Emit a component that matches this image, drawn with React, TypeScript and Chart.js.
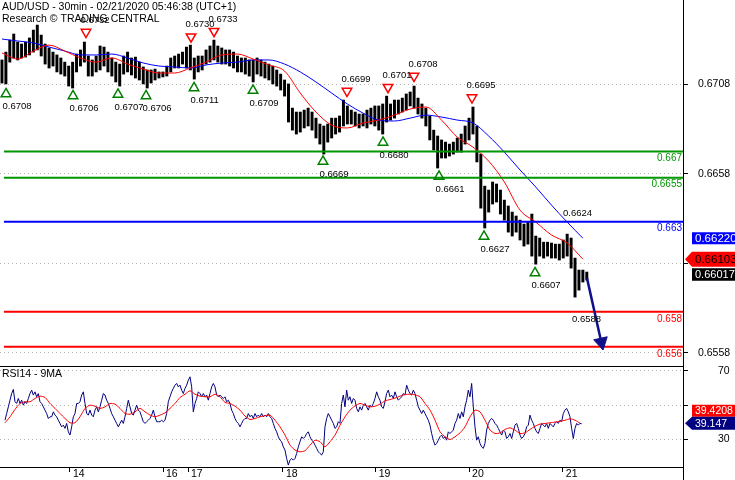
import React, { useEffect, useRef } from 'react';
import { Chart, registerables } from 'chart.js';

Chart.register(...registerables);

const FONT = "'Liberation Sans', Arial, Helvetica, sans-serif";
Chart.defaults.font.family = FONT;
Chart.defaults.color = '#000';

// ---------- text ----------
const titleLines = ['AUD/USD - 30min - 02/21/2020 05:46:38 (UTC+1)', 'Research \u00A9 TRADING CENTRAL'];
const rsiTitle = 'RSI14 - 9MA';

// ---------- axes ----------
const X_MAX = 174.01; // hourly slots across the plot
const MAIN_Y_MIN = 0.65506;
const MAIN_Y_MAX = 0.67551;
const mainTickValues = [0.6558, 0.6608, 0.6658, 0.6708];
const mainTickLabels = ['0.6558', '', '0.6658', '0.6708'];
const RSI_Y_MIN = 13.8;
const RSI_Y_MAX = 72.92;
const rsiTickValues = [30, 50, 70];
const rsiTickLabels = ['30', '', '70'];
const dayTickPos = [17.83, 41.53, 47.9, 72.1, 95.7, 119.5, 143.4];
const dayTickLabels = ['14', '16', '17', '18', '19', '20', '21'];

// ---------- price (hourly high / low) ----------
const priceHigh = [
  0.67216, 0.67260, 0.67327, 0.67361, 0.67316, 0.67305, 0.67316, 0.67339, 0.67383, 0.67411,
  0.67355, 0.67305, 0.67283, 0.67260, 0.67244, 0.67227, 0.67204, 0.67182, 0.67204, 0.67249,
  0.67272, 0.67316, 0.67238, 0.67216, 0.67238, 0.67294, 0.67288, 0.67260, 0.67227, 0.67204,
  0.67193, 0.67238, 0.67260, 0.67227, 0.67232, 0.67204, 0.67177, 0.67160, 0.67160, 0.67165,
  0.67149, 0.67149, 0.67182, 0.67227, 0.67238, 0.67249, 0.67260, 0.67288, 0.67299, 0.67227,
  0.67238, 0.67238, 0.67272, 0.67294, 0.67327, 0.67294, 0.67283, 0.67272, 0.67272, 0.67260,
  0.67238, 0.67227, 0.67227, 0.67216, 0.67216, 0.67227, 0.67216, 0.67204, 0.67193, 0.67182,
  0.67160, 0.67137, 0.67104, 0.67082, 0.66947, 0.66925, 0.66925, 0.66936, 0.66947, 0.66925,
  0.66891, 0.66858, 0.66847, 0.66858, 0.66891, 0.66891, 0.66903, 0.66992, 0.66959, 0.66936,
  0.66925, 0.66914, 0.66914, 0.66936, 0.66947, 0.66959, 0.66959, 0.66970, 0.67014, 0.66970,
  0.66992, 0.66992, 0.67003, 0.67026, 0.67037, 0.67070, 0.67003, 0.66970, 0.66947, 0.66903,
  0.66824, 0.66791, 0.66769, 0.66757, 0.66746, 0.66757, 0.66780, 0.66802, 0.66847, 0.66891,
  0.66953, 0.66847, 0.66690, 0.66511, 0.66489, 0.66534, 0.66523, 0.66489, 0.66433, 0.66400,
  0.66366, 0.66344, 0.66321, 0.66299, 0.66310, 0.66355, 0.66232, 0.66221, 0.66198, 0.66198,
  0.66193, 0.66187, 0.66187, 0.66210, 0.66243, 0.66221, 0.66109, 0.66042, 0.66042, 0.66031,
];
const priceLow = [
  0.67087, 0.67082, 0.67204, 0.67227, 0.67216, 0.67227, 0.67232, 0.67244, 0.67260, 0.67272,
  0.67238, 0.67193, 0.67171, 0.67182, 0.67149, 0.67137, 0.67126, 0.67070, 0.67059, 0.67149,
  0.67182, 0.67204, 0.67126, 0.67126, 0.67149, 0.67160, 0.67182, 0.67149, 0.67126, 0.67093,
  0.67070, 0.67137, 0.67149, 0.67132, 0.67115, 0.67104, 0.67082, 0.67059, 0.67087, 0.67104,
  0.67115, 0.67121, 0.67126, 0.67149, 0.67171, 0.67171, 0.67193, 0.67171, 0.67160, 0.67109,
  0.67149, 0.67160, 0.67193, 0.67204, 0.67216, 0.67204, 0.67193, 0.67193, 0.67182, 0.67171,
  0.67149, 0.67149, 0.67137, 0.67126, 0.67093, 0.67137, 0.67126, 0.67115, 0.67104, 0.67082,
  0.67070, 0.67048, 0.67014, 0.66869, 0.66824, 0.66802, 0.66813, 0.66836, 0.66847, 0.66824,
  0.66780, 0.66746, 0.66690, 0.66757, 0.66780, 0.66802, 0.66813, 0.66847, 0.66858, 0.66858,
  0.66847, 0.66836, 0.66847, 0.66836, 0.66858, 0.66847, 0.66824, 0.66802, 0.66869, 0.66880,
  0.66891, 0.66914, 0.66925, 0.66936, 0.66959, 0.66947, 0.66914, 0.66891, 0.66847, 0.66769,
  0.66713, 0.66612, 0.66668, 0.66668, 0.66679, 0.66690, 0.66701, 0.66701, 0.66746, 0.66769,
  0.66802, 0.66646, 0.66388, 0.66277, 0.66366, 0.66411, 0.66422, 0.66355, 0.66321, 0.66254,
  0.66232, 0.66254, 0.66210, 0.66176, 0.66187, 0.66120, 0.66075, 0.66120, 0.66109, 0.66120,
  0.66109, 0.66109, 0.66098, 0.66109, 0.66120, 0.66053, 0.65891, 0.65930, 0.65975, 0.65986,
];

// ---------- moving averages (every 4th hour) ----------
const MA_STEP = 4;
const redMA = [
  0.67255, 0.67221, 0.67266, 0.67299, 0.67266, 0.67227, 0.67204, 0.67227, 0.67193, 0.67165,
  0.67143, 0.67143, 0.67171, 0.67204, 0.67244, 0.67249, 0.67221, 0.67188, 0.67154, 0.67031,
  0.66925, 0.66852, 0.66836, 0.66864, 0.66880, 0.66908, 0.66942, 0.66953, 0.66880, 0.66785,
  0.66729, 0.66651, 0.66534, 0.66377, 0.66310, 0.66238, 0.66193, 0.66103,
];
const blueMA = [
  0.67333, 0.67322, 0.67311, 0.67288, 0.67266, 0.67244, 0.67244, 0.67249, 0.67227, 0.67199,
  0.67182, 0.67177, 0.67171, 0.67188, 0.67199, 0.67204, 0.67216, 0.67216, 0.67193, 0.67149,
  0.67093, 0.67031, 0.66970, 0.66919, 0.66880, 0.66875, 0.66891, 0.66908, 0.66897, 0.66880,
  0.66864, 0.66791, 0.66701, 0.66601, 0.66506, 0.66405, 0.66310, 0.66220,
];
const lastClose = 0.66017;

// ---------- levels ----------
const levelValues = [0.66704, 0.66558, 0.66312, 0.65809, 0.65613];
const levelLabels = ['0.667', '0.6655', '0.663', '0.658', '0.656'];
const levelColors = ['#009600', '#009600', '#0000ff', '#ff0000', '#ff0000'];

// ---------- swing markers ----------
const upMarkX = [1.53, 18.6, 30.06, 37.2, 49.43, 64.46, 82.29, 97.58, 111.85, 123.31, 136.31];
const upMarkY = [0.67026, 0.67015, 0.67023, 0.67015, 0.6706, 0.67046, 0.66649, 0.66755, 0.66565, 0.6623, 0.66026];
const upMarkLabels = ['0.6708', '0.6706', '0.6707', '0.6706', '0.6711', '0.6709', '0.6669', '0.6680', '0.6661', '0.6627', '0.6607'];
const downMarkX = [21.91, 48.66, 54.52, 88.41, 98.85, 105.48, 120.25];
const downMarkY = [0.67372, 0.67346, 0.67377, 0.67042, 0.67064, 0.67126, 0.67006];
const downMarkLabels = ['0.6732', '0.6730', '0.6733', '0.6699', '0.6701', '0.6708', '0.6695'];
const noteX = [143.44, 145.73];
const noteY = [0.66361, 0.65768];
const noteLabels = ['0.6624', '0.6588'];

// ---------- forecast arrow ----------
const arrowX = [149.55, 153.2];
const arrowY = [0.65997, 0.65639];

// ---------- RSI ----------
const RSI_START = 1.274;
const RSI_STEP = 0.4246;
const rsiValues = [
  41.2, 45.1, 49.0, 52.9, 56.8, 59.2, 52.0, 51.0, 53.9, 51.0,
  52.9, 50.0, 52.0, 51.0, 53.9, 56.8, 58.8, 55.9, 57.8, 54.9,
  56.8, 52.0, 51.0, 49.0, 47.1, 45.1, 42.2, 43.2, 43.2, 46.1,
  44.2, 43.2, 41.2, 39.3, 37.3, 38.3, 36.4, 39.3, 34.4, 32.5,
  37.3, 43.2, 45.1, 51.0, 51.0, 52.0, 55.9, 57.8, 51.0, 45.1,
  44.2, 47.1, 44.2, 43.2, 47.1, 49.0, 46.1, 49.0, 52.9, 56.8,
  55.9, 52.9, 51.0, 48.1, 45.1, 43.2, 41.2, 39.3, 37.3, 39.3,
  41.2, 39.3, 43.2, 48.1, 52.9, 49.0, 45.1, 44.2, 47.1, 50.0,
  47.1, 46.1, 43.2, 40.3, 39.3, 40.3, 41.2, 42.2, 44.2, 47.1,
  43.2, 40.3, 40.3, 40.3, 41.2, 40.3, 41.2, 45.1, 52.0, 54.9,
  57.8, 59.8, 61.7, 62.7, 60.7, 61.7, 58.8, 56.8, 59.8, 61.7,
  64.6, 66.6, 60.7, 46.1, 51.0, 53.9, 57.8, 56.8, 54.9, 56.8,
  54.9, 55.9, 52.9, 56.8, 60.7, 62.7, 60.7, 55.9, 54.9, 55.9,
  54.9, 53.9, 54.9, 52.0, 52.9, 51.0, 47.1, 45.1, 42.2, 40.3,
  39.3, 37.3, 39.3, 41.2, 42.2, 42.2, 45.1, 43.2, 44.2, 42.2,
  45.1, 43.2, 44.2, 43.2, 45.1, 43.2, 44.2, 43.2, 45.1, 43.2,
  42.2, 39.3, 36.4, 34.4, 31.5, 29.5, 28.6, 25.6, 23.7, 18.8,
  14.9, 17.8, 18.8, 17.8, 18.8, 21.7, 25.6, 28.6,
  31.5, 30.5, 31.5, 33.4, 34.4, 31.5, 29.5, 28.6, 26.6, 24.7,
  22.7, 21.7, 20.8, 22.7, 37.3, 42.2, 45.1, 43.2, 41.2, 39.3,
  36.4, 37.3, 40.3, 39.3, 51.0, 55.9, 49.0, 58.8, 52.9, 54.9,
  51.0, 53.9, 52.9, 48.1, 46.1, 49.0, 47.1, 50.0, 51.0, 49.0,
  47.1, 50.0, 49.0, 51.0, 53.9, 57.8, 54.9, 52.9, 49.0, 48.1,
  52.0, 56.8, 58.8, 54.9, 55.9, 53.9, 57.8, 54.9, 52.9, 53.9,
  54.9, 56.8, 55.9, 61.7, 58.8, 56.8, 55.9, 58.8, 56.8, 52.9,
  49.0, 47.1, 45.1, 47.1, 45.1, 43.2, 41.2, 38.3, 33.4, 29.5,
  26.6, 27.6, 29.5, 31.5, 32.5, 30.5, 31.5, 29.5, 34.4, 33.4,
  34.4, 35.4, 39.3, 41.2, 45.1, 42.2, 46.1, 43.2, 49.0, 52.9,
  58.8, 54.9, 62.7, 49.0, 37.3, 29.5, 31.5, 27.6, 25.6, 24.7,
  27.6, 35.4, 39.3, 41.2, 42.2, 41.2, 39.3, 38.3, 36.4, 34.4,
  32.5, 35.4, 34.4, 30.5, 31.5, 33.4, 30.5, 34.4, 38.3, 39.3,
  36.4, 32.5, 30.5, 31.5, 33.4, 37.3, 38.3, 44.2, 41.2, 39.3,
  36.4, 34.4, 33.4, 36.4, 39.3, 38.3, 37.3, 39.3, 36.4, 39.3,
  38.3, 37.3, 39.3, 40.3, 39.3, 41.2, 40.3, 45.1, 47.1, 48.1,
  46.1, 43.2, 36.4, 30.5, 36.4, 39.3, 38.3, 39.3, 39.1,
];
const RSI_MA_STEP = 1.274;
const rsiMAValues = [
  39.7, 43.2, 47.5, 51.0, 52.0, 52.0, 53.9, 55.3, 54.5, 51.0,
  48.1, 45.1, 42.2, 39.7, 39.7, 43.2, 48.1, 50.0, 49.4, 48.1,
  49.0, 51.0, 50.6, 48.1, 45.1, 44.7, 46.1, 48.1, 46.1, 44.2,
  43.2, 44.2, 45.5, 48.1, 51.0, 54.5, 56.4, 58.4, 56.4, 55.3,
  54.9, 54.9, 56.4, 54.9, 51.6, 51.0, 49.4, 47.1, 43.6, 41.6,
  42.2, 43.2, 43.8, 44.2, 41.2, 37.3, 32.5, 26.6, 23.7, 22.7,
  23.3, 26.6, 29.5, 28.6, 25.6, 28.6, 32.5, 38.3, 43.2, 47.1,
  49.6, 51.0, 50.0, 49.0, 49.4, 50.6, 52.5, 53.3, 54.1, 55.3,
  56.2, 56.4, 56.0, 54.9, 51.0, 47.1, 41.2, 34.4, 31.5, 29.9,
  31.5, 33.8, 37.3, 43.2, 47.1, 46.1, 41.2, 35.4, 33.4, 33.8,
  35.8, 36.7, 35.4, 33.4, 33.8, 35.8, 37.7, 38.9, 39.3, 39.7,
  40.1, 40.5, 41.2, 42.0, 41.2, 39.4,
];
const lastRSI = 39.147;
const lastRSIMA = 39.4208;

const NAVY = '#10108a';

function drawTag(ctx: CanvasRenderingContext2D, axisX: number, yc: number, h: number, fill: string,
  text: string, textColor: string, pointer: boolean, fontSize: number) {
  const x0 = axisX + 9;
  ctx.fillStyle = fill;
  ctx.beginPath();
  if (pointer) {
    ctx.moveTo(axisX + 2, yc);
    ctx.lineTo(x0, yc - h / 2);
  } else {
    ctx.moveTo(x0, yc - h / 2);
  }
  ctx.lineTo(740, yc - h / 2);
  ctx.lineTo(740, yc + h / 2);
  ctx.lineTo(x0, yc + h / 2);
  ctx.closePath();
  ctx.fill();
  ctx.fillStyle = textColor;
  ctx.font = `${fontSize}px ${FONT}`;
  ctx.textAlign = 'left';
  ctx.textBaseline = 'middle';
  ctx.fillText(text, x0 + 3, yc + 0.5);
}

const mainOverlay = {
  id: 'mainOverlay',
  afterDraw(chart: any) {
    const { ctx, chartArea, scales } = chart;
    const xs = scales.x;
    const ys = scales.y;
    ctx.save();
    ctx.textBaseline = 'middle';
    ctx.textAlign = 'left';
    ctx.fillStyle = '#000';
    ctx.font = `10.5px ${FONT}`;
    ctx.fillText(titleLines[0], 2, 7);
    ctx.fillText(titleLines[1], 2, 19.5);

    ctx.font = `9.5px ${FONT}`;
    upMarkLabels.forEach((t, i) => {
      ctx.fillText(t, xs.getPixelForValue(upMarkX[i]) - 3.5, ys.getPixelForValue(upMarkY[i]) + 12.6);
    });
    downMarkLabels.forEach((t, i) => {
      ctx.fillText(t, xs.getPixelForValue(downMarkX[i]) - 5.5, ys.getPixelForValue(downMarkY[i]) - 12.1);
    });
    noteLabels.forEach((t, i) => {
      ctx.fillText(t, xs.getPixelForValue(noteX[i]), ys.getPixelForValue(noteY[i]));
    });

    ctx.font = `10px ${FONT}`;
    ctx.textAlign = 'right';
    levelLabels.forEach((t, i) => {
      ctx.fillStyle = levelColors[i];
      ctx.fillText(t, chartArea.right - 1, ys.getPixelForValue(levelValues[i]) + 7);
    });

    const ax = chartArea.right;
    drawTag(ctx, ax, ys.getPixelForValue(blueMA[blueMA.length - 1]), 12, '#0000ff', blueMA[blueMA.length - 1].toFixed(6), '#fff', false, 11.5);
    drawTag(ctx, ax, ys.getPixelForValue(redMA[redMA.length - 1]), 15, '#ff0000', redMA[redMA.length - 1].toFixed(6), '#000', true, 11.5);
    drawTag(ctx, ax, ys.getPixelForValue(lastClose), 12.5, '#000', lastClose.toFixed(5), '#fff', false, 11);
    ctx.restore();
  },
};

const rsiOverlay = {
  id: 'rsiOverlay',
  afterDraw(chart: any) {
    const { ctx, chartArea, scales } = chart;
    const ys = scales.y;
    ctx.save();
    ctx.strokeStyle = '#000';
    ctx.lineWidth = 1;
    ctx.beginPath();
    ctx.moveTo(0, 0.5);
    ctx.lineTo(chartArea.right + 1, 0.5);
    ctx.stroke();
    ctx.beginPath();
    ctx.moveTo(chartArea.right + 0.5, chartArea.bottom);
    ctx.lineTo(chartArea.right + 0.5, chart.height);
    ctx.stroke();

    ctx.fillStyle = '#000';
    ctx.font = `10.5px ${FONT}`;
    ctx.textAlign = 'left';
    ctx.textBaseline = 'middle';
    ctx.fillText(rsiTitle, 2, 8.5);

    const yRsi = ys.getPixelForValue(lastRSI) - 0.5;
    let yMa = ys.getPixelForValue(lastRSIMA);
    if (Math.abs(yMa - yRsi) < 12.5) yMa = yRsi - 12.5;
    drawTag(ctx, chartArea.right, yMa, 12, '#ff0000', lastRSIMA.toFixed(4), '#fff', false, 10.5);
    drawTag(ctx, chartArea.right, yRsi, 13, '#000080', lastRSI.toFixed(3), '#fff', true, 10.5);
    ctx.restore();
  },
};

function zeroPad(s: any) {
  s.paddingTop = 0;
  s.paddingBottom = 0;
  s.paddingLeft = 0;
  s.paddingRight = 0;
}

function buildMain(): any {
  const bars = priceHigh.map((h, i) => ({ x: i + 0.5, y: [priceLow[i], h] }));
  const red = redMA.map((v, i) => ({ x: i * MA_STEP + 0.5, y: v }));
  const blue = blueMA.map((v, i) => ({ x: i * MA_STEP + 0.5, y: v }));
  const levels = levelValues.map((v, i) => ({
    type: 'line',
    data: [{ x: 1, y: v }, { x: X_MAX, y: v }],
    borderColor: levelColors[i],
    borderWidth: 2,
    pointRadius: 0,
    order: 2,
  }));
  return {
    type: 'bar',
    data: {
      datasets: [
        {
          type: 'line',
          data: arrowX.map((x, i) => ({ x, y: arrowY[i] })),
          borderColor: NAVY,
          borderWidth: 2.5,
          pointRadius: [0, 8],
          pointStyle: 'triangle',
          pointRotation: 167.5,
          pointBackgroundColor: NAVY,
          pointBorderColor: NAVY,
          pointBorderWidth: 1,
          order: 0,
        },
        {
          type: 'line',
          data: upMarkX.map((x, i) => ({ x, y: upMarkY[i] })),
          showLine: false,
          pointStyle: 'triangle',
          pointRadius: 5.5,
          pointBorderWidth: 1.5,
          pointBorderColor: '#008000',
          pointBackgroundColor: 'rgba(255,255,255,0)',
          order: 1,
        },
        {
          type: 'line',
          data: downMarkX.map((x, i) => ({ x, y: downMarkY[i] })),
          showLine: false,
          pointStyle: 'triangle',
          pointRotation: 180,
          pointRadius: 5.5,
          pointBorderWidth: 1.5,
          pointBorderColor: '#ff0000',
          pointBackgroundColor: 'rgba(255,255,255,0)',
          order: 1,
        },
        ...levels,
        {
          type: 'line',
          data: red,
          borderColor: '#ff0000',
          borderWidth: 1,
          pointRadius: 0,
          cubicInterpolationMode: 'monotone',
          order: 3,
        },
        {
          type: 'line',
          data: blue,
          borderColor: '#0000ff',
          borderWidth: 1,
          pointRadius: 0,
          cubicInterpolationMode: 'monotone',
          order: 4,
        },
        {
          type: 'bar',
          data: bars,
          backgroundColor: '#000',
          barThickness: 2.3,
          borderWidth: 0,
          order: 5,
        },
      ],
    },
    options: {
      animation: false,
      responsive: false,
      devicePixelRatio: 1,
      events: [],
      layout: { padding: 0, autoPadding: false },
      plugins: { legend: { display: false }, tooltip: { enabled: false } },
      scales: {
        x: { type: 'linear', display: false, min: 0, max: X_MAX, offset: false, grid: { offset: false } },
        y: {
          type: 'linear',
          position: 'right',
          min: MAIN_Y_MIN,
          max: MAIN_Y_MAX,
          offset: false,
          afterBuildTicks: (s: any) => { s.ticks = mainTickValues.map((v) => ({ value: v })); },
          afterFit: (s: any) => { s.width = 52; zeroPad(s); },
          ticks: {
            callback: (_v: any, i: number) => mainTickLabels[i],
            font: { family: FONT, size: 10.5 },
            color: '#000',
            padding: 10,
            autoSkip: false,
          },
          grid: { color: '#b4b4b4', lineWidth: 1, drawTicks: true, tickLength: 5, tickColor: '#000' },
          border: { display: true, color: '#000', width: 1, dash: [1, 3] },
        },
      },
    },
    plugins: [mainOverlay],
  };
}

function buildRsi(): any {
  return {
    type: 'line',
    data: {
      datasets: [
        {
          data: rsiMAValues.map((v, i) => ({ x: RSI_START + i * RSI_MA_STEP, y: v })),
          borderColor: '#ff0000',
          borderWidth: 1,
          pointRadius: 0,
          tension: 0.2,
        },
        {
          data: rsiValues.map((v, i) => ({ x: RSI_START + i * RSI_STEP, y: v })),
          borderColor: '#000080',
          borderWidth: 1,
          pointRadius: 0,
        },
      ],
    },
    options: {
      animation: false,
      responsive: false,
      devicePixelRatio: 1,
      events: [],
      layout: { padding: 0, autoPadding: false },
      plugins: { legend: { display: false }, tooltip: { enabled: false } },
      scales: {
        x: {
          type: 'linear',
          position: 'bottom',
          min: 0,
          max: X_MAX,
          offset: false,
          afterBuildTicks: (s: any) => { s.ticks = dayTickPos.map((v) => ({ value: v })); },
          afterFit: (s: any) => { s.height = 13; zeroPad(s); },
          ticks: {
            callback: (_v: any, i: number) => dayTickLabels[i],
            align: 'start',
            labelOffset: 3,
            padding: -4,
            maxRotation: 0,
            autoSkip: false,
            font: { family: FONT, size: 10.5 },
            color: '#000',
          },
          grid: { drawOnChartArea: false, drawTicks: true, tickLength: 5, tickColor: '#000', offset: false },
          border: { display: true, color: '#000', width: 1 },
        },
        y: {
          type: 'linear',
          position: 'right',
          min: RSI_Y_MIN,
          max: RSI_Y_MAX,
          offset: false,
          afterBuildTicks: (s: any) => { s.ticks = rsiTickValues.map((v) => ({ value: v })); },
          afterFit: (s: any) => { s.width = 52; zeroPad(s); },
          ticks: {
            callback: (_v: any, i: number) => rsiTickLabels[i],
            font: { family: FONT, size: 10.5 },
            color: '#000',
            padding: 30,
            autoSkip: false,
          },
          grid: { color: '#b4b4b4', lineWidth: 1, drawTicks: true, tickLength: 5, tickColor: '#000' },
          border: { display: true, color: '#000', width: 1, dash: [1, 3] },
        },
      },
    },
    plugins: [rsiOverlay],
  };
}

export default function App() {
  const mainRef = useRef<HTMLCanvasElement>(null);
  const rsiRef = useRef<HTMLCanvasElement>(null);
  useEffect(() => {
    const c1 = new Chart(mainRef.current as HTMLCanvasElement, buildMain());
    const c2 = new Chart(rsiRef.current as HTMLCanvasElement, buildRsi());
    return () => {
      c1.destroy();
      c2.destroy();
    };
  }, []);
  return (
    <div style={{ position: 'absolute', left: 0, top: 0, width: 735, height: 480, background: '#fff', overflow: 'hidden' }}>
      <canvas ref={mainRef} width={735} height={366}
        style={{ position: 'absolute', left: 0, top: 0, width: 735, height: 366, display: 'block' }} />
      <canvas ref={rsiRef} width={735} height={114}
        style={{ position: 'absolute', left: 0, top: 366, width: 735, height: 114, display: 'block' }} />
    </div>
  );
}
